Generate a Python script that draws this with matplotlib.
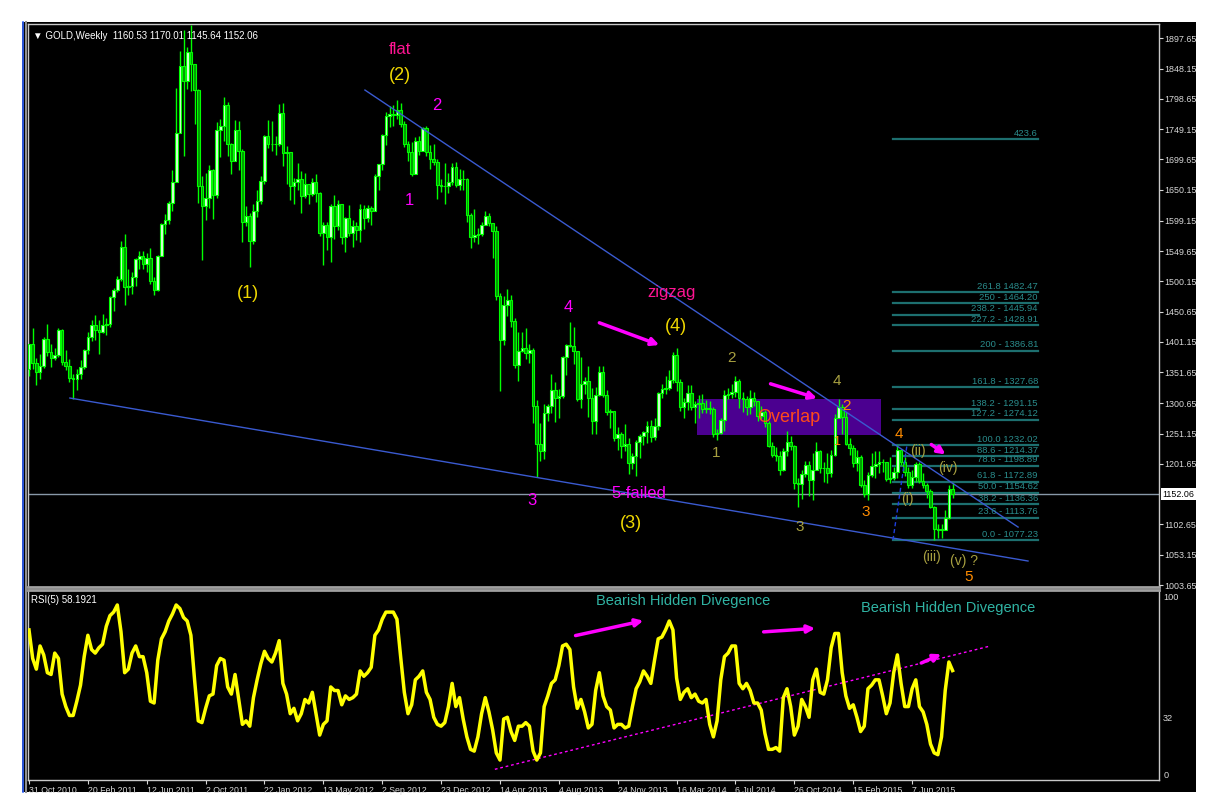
import matplotlib
matplotlib.use("Agg")
import matplotlib.pyplot as plt
from matplotlib.patches import Rectangle
from matplotlib.lines import Line2D
import numpy as np

plt.rcParams['font.family'] = ['Liberation Sans', 'DejaVu Sans']

# weekly GOLD candles, 31 Oct 2010 .. 23 Aug 2015 (one value per week)
first_open = 1357
closes = [1397, 1367, 1352, 1362, 1406, 1385, 1375, 1380, 1421,
          1369, 1361, 1342, 1340, 1348, 1360, 1388, 1409, 1429, 1420, 1418, 1429,
          1430, 1474, 1486, 1504, 1556, 1491, 1493, 1508, 1536, 1542, 1529, 1539,
          1501, 1486, 1541, 1594, 1601, 1628, 1663, 1743, 1852, 1828, 1876, 1856,
          1813, 1656, 1624, 1636, 1683, 1642, 1747, 1754, 1788, 1725, 1697, 1747,
          1713, 1598, 1607, 1566,
          1616, 1631, 1664, 1738, 1725, 1725, 1725, 1776, 1710, 1711, 1656, 1662,
          1668, 1640, 1659, 1643, 1663, 1644, 1580, 1592, 1572, 1623, 1590, 1627,
          1573, 1604, 1580, 1590, 1584, 1619, 1603, 1620, 1616, 1672, 1692, 1739,
          1771, 1774, 1772, 1780, 1758, 1724, 1712, 1676, 1730, 1714, 1751, 1712,
          1701, 1696, 1657, 1656,
          1656, 1662, 1687, 1658, 1667, 1667, 1609, 1572, 1576, 1577, 1592, 1607,
          1596, 1582, 1476, 1405, 1462, 1470, 1436, 1364, 1386, 1392, 1383, 1388,
          1296, 1234, 1223, 1285, 1296, 1323, 1310, 1313, 1377, 1396, 1395, 1387,
          1308, 1333, 1337, 1309, 1272, 1315, 1352, 1314, 1287, 1288, 1244, 1250,
          1231, 1235, 1203, 1214,
          1238, 1248, 1254, 1264, 1245, 1263, 1318, 1324, 1326, 1339, 1380, 1335,
          1294, 1303, 1318, 1294, 1300, 1302, 1291, 1293, 1292, 1250, 1252, 1274,
          1315, 1316, 1320, 1337, 1310, 1307, 1294, 1310, 1305, 1280, 1287, 1268,
          1231, 1216, 1215, 1192, 1222, 1238, 1231, 1171, 1169, 1185, 1200, 1175,
          1192, 1222, 1195, 1195,
          1186, 1216, 1277, 1294, 1279, 1235, 1228, 1203, 1213, 1167, 1152, 1183,
          1199, 1201, 1205, 1204, 1177, 1178, 1188, 1225, 1205, 1189, 1168, 1180,
          1201, 1173, 1168, 1158, 1131, 1096, 1094, 1094, 1113, 1160.53, 1152.06]
highs = [1398, 1424, 1375, 1382, 1410, 1431, 1398, 1391, 1424,
         1423, 1388, 1373, 1348, 1357, 1372, 1390, 1418, 1437, 1445, 1437, 1447,
         1440, 1476, 1489, 1509, 1566, 1577, 1520, 1516, 1538, 1549, 1550, 1546,
         1555, 1508, 1544, 1595, 1610, 1631, 1682, 1817, 1877, 1911, 1883, 1920,
         1843, 1815, 1672, 1678, 1690, 1684, 1761, 1765, 1802, 1793, 1726, 1764,
         1763, 1717, 1624, 1612,
         1626, 1650, 1672, 1740, 1764, 1763, 1738, 1790, 1792, 1721, 1712, 1670,
         1693, 1680, 1678, 1660, 1669, 1675, 1646, 1598, 1597, 1627, 1641, 1633,
         1627, 1606, 1625, 1600, 1597, 1627, 1625, 1625, 1623, 1675, 1692, 1741,
         1777, 1787, 1788, 1796, 1792, 1762, 1730, 1728, 1737, 1738, 1753, 1755,
         1723, 1725, 1700, 1667,
         1694, 1678, 1694, 1696, 1684, 1683, 1669, 1612, 1618, 1588, 1597, 1616,
         1612, 1586, 1590, 1481, 1476, 1488, 1478, 1440, 1417, 1418, 1424, 1397,
         1392, 1306, 1268, 1299, 1299, 1348, 1335, 1324, 1378, 1398, 1433, 1425,
         1386, 1376, 1343, 1362, 1326, 1327, 1361, 1362, 1323, 1292, 1280, 1262,
         1254, 1267, 1244, 1219,
         1240, 1251, 1256, 1272, 1274, 1276, 1320, 1332, 1345, 1355, 1385, 1392,
         1341, 1309, 1331, 1331, 1304, 1315, 1316, 1306, 1305, 1294, 1259, 1277,
         1322, 1326, 1332, 1345, 1340, 1320, 1312, 1322, 1320, 1304, 1296, 1290,
         1272, 1237, 1230, 1222, 1227, 1255, 1248, 1233, 1178, 1192, 1207, 1207,
         1220, 1238, 1225, 1204,
         1220, 1224, 1283, 1307, 1300, 1287, 1244, 1232, 1224, 1217, 1176, 1188,
         1219, 1223, 1222, 1209, 1204, 1213, 1197, 1232, 1226, 1213, 1196, 1191,
         1205, 1204, 1187, 1171, 1160, 1133, 1104, 1104, 1126, 1168, 1170.01]
lows = [1346, 1357, 1330, 1341, 1358, 1378, 1360, 1371, 1377,
        1363, 1356, 1335, 1308, 1323, 1341, 1357, 1381, 1402, 1405, 1382, 1415,
        1413, 1426, 1452, 1482, 1500, 1462, 1478, 1480, 1492, 1520, 1520, 1516,
        1496, 1478, 1485, 1541, 1577, 1594, 1616, 1690, 1755, 1705, 1815, 1812,
        1758, 1628, 1535, 1601, 1620, 1602, 1637, 1703, 1730, 1705, 1676, 1698,
        1683, 1564, 1590, 1523,
        1562, 1606, 1626, 1660, 1718, 1713, 1706, 1722, 1688, 1660, 1634, 1627,
        1650, 1612, 1636, 1626, 1640, 1630, 1575, 1527, 1552, 1532, 1570, 1584,
        1562, 1548, 1575, 1556, 1568, 1565, 1586, 1598, 1592, 1616, 1650, 1683,
        1723, 1752, 1754, 1766, 1753, 1720, 1697, 1672, 1676, 1706, 1717, 1705,
        1684, 1691, 1635, 1647,
        1626, 1645, 1658, 1655, 1650, 1650, 1598, 1554, 1565, 1562, 1575, 1592,
        1590, 1539, 1470, 1321, 1396, 1443, 1425, 1359, 1338, 1385, 1373, 1366,
        1269, 1180, 1207, 1209, 1272, 1285, 1271, 1276, 1309, 1347, 1393, 1365,
        1305, 1293, 1316, 1278, 1250, 1251, 1312, 1311, 1281, 1260, 1239, 1225,
        1211, 1223, 1185, 1193,
        1182, 1212, 1232, 1236, 1237, 1240, 1257, 1310, 1316, 1322, 1334, 1321,
        1288, 1277, 1290, 1290, 1268, 1277, 1285, 1285, 1284, 1246, 1240, 1251,
        1255, 1308, 1310, 1311, 1293, 1287, 1281, 1284, 1296, 1272, 1275, 1262,
        1229, 1213, 1207, 1183, 1190, 1215, 1225, 1161, 1131, 1144, 1180, 1150,
        1142, 1191, 1187, 1172,
        1170, 1180, 1215, 1276, 1250, 1232, 1216, 1197, 1190, 1164, 1147, 1142,
        1180, 1178, 1186, 1188, 1174, 1170, 1176, 1179, 1200, 1182, 1162, 1163,
        1172, 1170, 1162, 1146, 1130, 1077, 1081, 1080, 1093, 1112, 1145.64]

# RSI(5), one value per week
rsi = [81, 65, 59, 72, 67, 57, 56, 68, 65, 45, 38, 33, 33, 41, 50, 66, 78, 70, 68, 71,
       73, 83, 89, 91, 95, 80, 57, 59, 68, 72, 66, 66, 57, 41, 40, 64, 76, 80, 86, 90,
       95, 93, 88, 86, 78, 53, 30, 29, 37, 44, 45, 61, 65, 64, 49, 45, 56, 42, 28, 30,
       27, 43, 53, 62, 69, 65, 63, 68, 75, 51, 45, 34, 37, 30, 34, 42, 40, 46, 34, 22,
       28, 30, 49, 47, 47, 39, 44, 42, 43, 45, 58, 55, 57, 60, 78, 81, 87, 91, 91, 91,
       87, 66, 46, 34, 39, 53, 55, 58, 46, 42, 32, 28, 27, 29, 38, 51, 38, 43, 31, 21,
       14, 13, 21, 34, 43, 35, 25, 12, 8, 31, 32, 24, 19, 27, 27, 29, 27, 13, 8, 12,
       38, 44, 51, 53, 61, 72, 73, 70, 49, 37, 42, 35, 26, 28, 47, 57, 44, 38, 36, 26,
       28, 28, 26, 27, 38, 48, 52, 58, 55, 51, 64, 76, 77, 81, 86, 81, 54, 42, 46, 48,
       43, 45, 41, 40, 42, 28, 21, 30, 53, 66, 68, 72, 72, 51, 48, 51, 47, 40, 40, 36,
       23, 14, 14, 15, 13, 43, 48, 38, 22, 27, 42, 38, 32, 53, 59, 46, 45, 53, 71, 79,
       79, 57, 44, 37, 39, 32, 24, 27, 48, 50, 53, 53, 44, 34, 40, 57, 67, 51, 38, 38,
       48, 53, 38, 35, 28, 17, 12, 11, 21, 47, 63, 58.19]

date_weeks = [0, 16, 32, 48, 64, 80, 96, 112, 128, 144, 160, 176, 192, 208, 224, 240]
date_labels = ["31 Oct 2010", "20 Feb 2011", "12 Jun 2011", "2 Oct 2011", "22 Jan 2012",
               "13 May 2012", "2 Sep 2012", "23 Dec 2012", "14 Apr 2013", "4 Aug 2013",
               "24 Nov 2013", "16 Mar 2014", "6 Jul 2014", "26 Oct 2014", "15 Feb 2015",
               "7 Jun 2015"]

price_ticks = [1897.65, 1848.15, 1798.65, 1749.15, 1699.65, 1650.15, 1599.15, 1549.65,
               1500.15, 1450.65, 1401.15, 1351.65, 1300.65, 1251.15, 1201.65, 1102.65,
               1053.15, 1003.65]
last_price = 1152.06

fib_ratio = ["423.6", "261.8", "250", "238.2", "227.2", "200", "161.8", "138.2", "127.2",
             "100.0", "88.6", "78.6", "61.8", "50.0", "38.2", "23.6", "0.0"]
fib_price = [1732.90, 1482.47, 1464.20, 1445.94, 1428.91, 1386.81, 1327.68, 1291.15,
             1274.12, 1232.02, 1214.37, 1198.89, 1172.89, 1154.62, 1136.36, 1113.76,
             1077.23]

weeks = np.arange(len(closes))
opens = [first_open] + closes[:-1]

small = ['Liberation Sans Narrow', 'Liberation Sans']

fig = plt.figure(figsize=(12.13, 8.02), dpi=100)
fig.patch.set_facecolor('white')
fig.patches.append(Rectangle((22 / 1213, 1 - 792 / 802), 1174 / 1213, 770 / 802,
                             transform=fig.transFigure, facecolor='black', zorder=-10))
fig.add_artist(Line2D([22.5 / 1213] * 2, [1 - 792 / 802, 1 - 22 / 802],
                      color='#3366ff', lw=1.2))
fig.add_artist(Line2D([25.5 / 1213] * 2, [1 - 792 / 802, 1 - 22 / 802],
                      color='#909090', lw=1.5))

ax = fig.add_axes([28 / 1213, 1 - 587 / 802, 1131 / 1213, 563 / 802])
ax2 = fig.add_axes([28 / 1213, 1 - 780 / 802, 1131 / 1213, 190 / 802], sharex=ax)
for a in (ax, ax2):
    a.set_facecolor('black')
    for s in a.spines.values():
        s.set_color('#c8c8c8')
        s.set_linewidth(1)
ax.spines['bottom'].set_color('#a0a0a0')
ax.spines['bottom'].set_linewidth(2)
ax2.spines['top'].set_color('#a0a0a0')
ax2.spines['top'].set_linewidth(2)

# candles
up = [c >= o for o, c in zip(opens, closes)]
ax.vlines(weeks, lows, highs, color='#00ff00', lw=1, zorder=3)
bottoms = [min(o, c) for o, c in zip(opens, closes)]
heights = [max(abs(c - o), 0.5) for o, c in zip(opens, closes)]
ax.bar(weeks, heights, bottom=bottoms, width=0.72,
       color=['#d8ffd8' if u else '#009a00' for u in up],
       edgecolor='#00ff00', linewidth=0.8, zorder=4)

ax.set_xlim(-0.27, 307.1)
ax.set_ylim(1000.4, 1921.0)

# current price line
ax.axhline(last_price, color='#8898a8', lw=1, zorder=2)

# trend lines
ax.plot([91.3, 268.8], [1813, 1098.4], color='#3a5ad0', lw=1, zorder=5)
ax.plot([11.1, 271.5], [1309.4, 1042.9], color='#3a5ad0', lw=1, zorder=5)

# overlap box
ax.add_patch(Rectangle((181.5, 1249), 50, 58.8, facecolor='#4b0090', edgecolor='none',
                       zorder=1))
ax.text(206.5, 1277, "Overlap", color='#ff4a1a', fontsize=13, ha='center', va='center',
        zorder=6)

# fibonacci levels
fib_short = ["238.2", "138.2"]
for r, p in zip(fib_ratio, fib_price):
    x1 = 258.2 if r in fib_short else 274.2
    ax.plot([234.8, x1], [p, p], color='#1d6f6f', lw=1.6, zorder=2)
    if r == "423.6":
        lab = r
    elif r in ("261.8", "100.0"):
        lab = r + " " + format(p, ".2f")
    else:
        lab = r + " - " + format(p, ".2f")
    ax.text(274.2, p + 2, lab, color='#2a8c8c', fontsize=6.8, ha='right', va='bottom',
            family=small, zorder=6)
ax.plot([234.8, 238.6], [1077.23, 1232.02], color='#2040e0', lw=1, ls=(0, (3, 2)),
        zorder=5)

# wave labels
pink = '#ff1493'
mag = '#ff00ff'
yel = '#f0d800'
olive = '#a8a040'
orng = '#ff8c00'
labels = [
    ("flat", 100.8, 1880, pink, 12), ("(2)", 100.8, 1837, yel, 13),
    ("2", 110.9, 1788, mag, 12), ("1", 103.5, 1633, mag, 12),
    ("(1)", 59.5, 1481, yel, 13), ("4", 146.5, 1458, mag, 12),
    ("zigzag", 174.5, 1482, pink, 12), ("(4)", 175.8, 1427, yel, 13),
    ("3", 136.7, 1142, mag, 12), ("5-failed", 165.8, 1154, mag, 12),
    ("(3)", 163.6, 1105, yel, 13), ("2", 190.8, 1375, olive, 11),
    ("1", 186.7, 1219, olive, 11), ("4", 219.6, 1337, olive, 11),
    ("2", 222.3, 1296, orng, 11), ("1", 219.6, 1237, orng, 9),
    ("3", 209.5, 1098, olive, 11), ("3", 227.4, 1123, orng, 11),
    ("4", 236.4, 1251, orng, 11), ("(ii)", 241.6, 1223, olive, 10),
    ("(iv)", 249.7, 1195, olive, 10), ("(i)", 238.6, 1144, olive, 10),
    ("(iii)", 245.4, 1050, olive, 10), ("(v) ?", 254.1, 1043, olive, 10),
    ("5", 255.4, 1017, orng, 11),
]
for t, x, y, c, fs in labels:
    ax.text(x, y, t, color=c, fontsize=fs, ha='center', va='center', zorder=7)

arrow = dict(arrowstyle='-|>', color=mag, lw=2.5, mutation_scale=11)
for (x0, y0), (x1, y1) in [((154.3, 1434), (172.0, 1394.6)),
                           ((200.8, 1334), (214.9, 1307.8)),
                           ((244.6, 1236), (249.7, 1214.6))]:
    ax.annotate('', xy=(x1, y1), xytext=(x0, y0), arrowprops=arrow, zorder=7)

ax.text(0.004, 0.988, "\u25bc GOLD,Weekly  1160.53 1170.01 1145.64 1152.06",
        transform=ax.transAxes, color='white', fontsize=7, va='top', ha='left',
        family=['Liberation Sans', 'DejaVu Sans'])

# price axis on the right
ax.yaxis.tick_right()
ax.set_yticks(price_ticks)
ax.set_yticklabels([format(v, ".2f") for v in price_ticks])
ax.tick_params(axis='y', colors='#d8d8d8', labelsize=6.4, length=3, pad=1)
ax.tick_params(axis='x', bottom=False, labelbottom=False)
for lab in ax.get_yticklabels():
    lab.set_family(small)
ax.text(1.0030, last_price, format(last_price, ".2f"), transform=ax.get_yaxis_transform(),
        color='black', fontsize=6.4, va='center', ha='left', family=small,
        bbox=dict(facecolor='white', edgecolor='none', pad=1.0))

# RSI panel
ax2.plot(weeks, rsi, color='#ffff00', lw=2.5, zorder=4)
ax2.set_ylim(-3.2, 103.4)
ax2.plot([126.6, 261.1], [2.8, 71.9], color=mag, lw=1, ls=(0, (2, 2)), zorder=3)
for (x0, y0), (x1, y1) in [((147.8, 77.5), (167.7, 86.5)),
                           ((198.9, 79.8), (214.4, 82.0)),
                           ((241.8, 61.8), (248.6, 68.0))]:
    ax2.annotate('', xy=(x1, y1), xytext=(x0, y0), arrowprops=arrow, zorder=6)
for x, y in [(177.7, 97.0), (249.7, 93.3)]:
    ax2.text(x, y, "Bearish Hidden Divegence", color='#30b4a4', fontsize=10.5,
             ha='center', va='center', zorder=6)
ax2.text(0.003, 0.975, "RSI(5) 58.1921", transform=ax2.transAxes, color='white',
         fontsize=7, va='top', ha='left', family=small)

ax2.yaxis.tick_right()
ax2.set_yticks([100, 32, 0])
ax2.set_yticklabels(["100", "32", "0"])
ax2.tick_params(axis='y', colors='#d8d8d8', labelsize=6.6, length=0, pad=3)
ax2.set_xticks(date_weeks)
ax2.set_xticklabels(date_labels)
ax2.tick_params(axis='x', colors='#d8d8d8', labelsize=6.3, length=3, pad=1)
for lab in ax2.get_xticklabels() + ax2.get_yticklabels():
    lab.set_family(small)
for lab in ax2.get_xticklabels():
    lab.set_ha('left')

fig.savefig("out.png", dpi=100, facecolor='white')
